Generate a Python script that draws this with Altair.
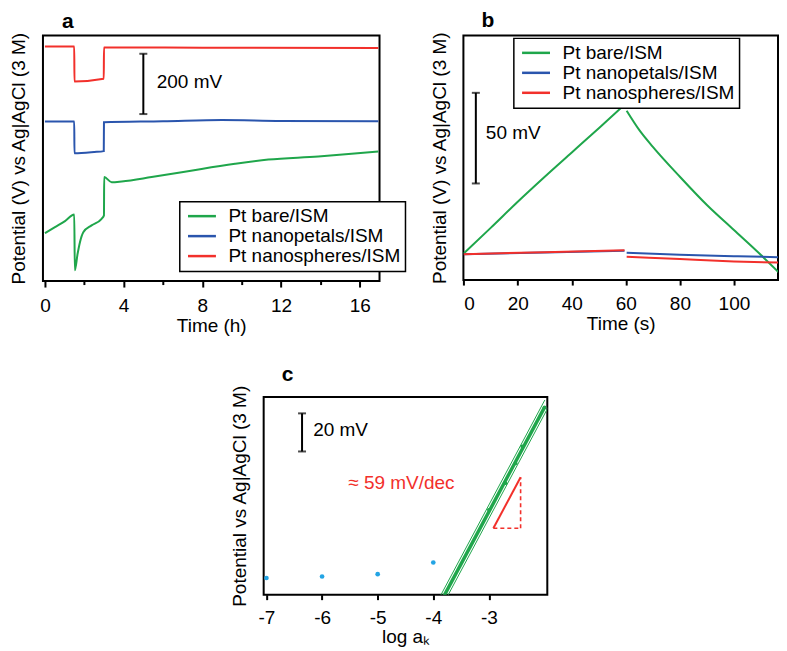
import altair as alt
import pandas as pd
import numpy as np

FONT = "Liberation Sans"
GREEN = "#1fa64b"
BLUE = "#2a55ad"
RED = "#f2302b"
LIGHTBLUE = "#23a4e4"
SERIES = ["Pt bare/ISM", "Pt nanopetals/ISM", "Pt nanospheres/ISM"]
YTITLE = "Potential (V) vs Ag|AgCl (3 M)"
YTITLE_C = "Potential vs Ag|AgCl (3 M)"

# ---------------- panel a (time in h, potential in mV, arbitrary offset) ----
a_bare_t = [0.0, 0.51, 1.02, 1.49, 1.52, 1.66, 1.78, 1.95, 2.37, 2.88, 3.0, 3.01, 3.39, 3.9, 5.42, 6.95, 7.96, 9.66, 11.35, 13.89, 15.58, 16.94]
a_bare_v = [159, 179, 199, 221, 35.5, 90.5, 129, 162, 184.6, 206.6, 217.8, 344.8, 328, 330.5, 345, 361, 372, 389, 403, 413, 422, 430]
a_petal_t = [0.0, 1.49, 1.5, 2.5, 2.99, 3.0, 6.0, 9.0, 12.0, 16.94]
a_petal_v = [529, 529, 424, 428, 431, 527, 530, 534, 531, 530]
a_sphere_t = [0.0, 1.49, 1.5, 2.99, 3.0, 8.0, 16.94]
a_sphere_v = [778, 778, 662, 671, 775, 774, 773]
a_bar = {"x": 5.0, "y0": 554, "y1": 754, "label": "200 mV", "lx": 5.68, "ly": 660}

# ---------------- panel b (time in s, potential in mV) ----------------------
b_bare_t1 = [0, 10, 20, 30, 40, 50, 59.5]
b_bare_v1 = [14.7, 28.8, 43.2, 57.0, 70.4, 83.8, 96.7]
b_bare_t2 = [60.3, 65, 70, 80, 90, 100, 110, 119.5]
b_bare_v2 = [93.4, 82.7, 73.5, 57.0, 41.4, 27.6, 13.8, 0.0]
b_petal_t1 = [0, 30, 59.5]
b_petal_v1 = [14.3, 15.2, 16.2]
b_petal_t2 = [60.3, 80, 100, 119.5]
b_petal_v2 = [15.1, 14.0, 13.2, 12.5]
b_sphere_t1 = [0, 30, 59.5]
b_sphere_v1 = [14.3, 15.4, 16.5]
b_sphere_t2 = [60.3, 80, 100, 119.5]
b_sphere_v2 = [12.9, 11.6, 10.3, 9.5]
b_bar = {"x": 4.5, "y0": 53.3, "y1": 103.3, "label": "50 mV", "lx": 8.2, "ly": 80.9}

# ---------------- panel c (log a_K, potential in mV) -------------------------
c_low_x = [-7, -6, -5, -4]
c_low_v = [8.7, 9.5, 10.7, 16.8]
c_lin_x = [-3.0, -2.70, -2.52, -2.40, -2.0]
c_lin_v = [44.3, 58.2, 68.6, 77.4, 97.9]
c_bar = {"x": -6.36, "y0": 74.8, "y1": 94.7, "label": "20 mV", "lx": -6.16, "ly": 86}
c_note = {"label": "\u2248 59 mV/dec", "x": -5.53, "y": 58.2}
c_tri = {"x0": -2.92, "x1": -2.43, "y0": 34.7, "y1": 61.3}
c_band = 0.065


def series_df(parts):
    rows = []
    for name, seg, ts, vs in parts:
        for t, v in zip(ts, vs):
            rows.append({"t": t, "v": v, "series": name, "seg": f"{name}-{seg}"})
    return pd.DataFrame(rows)


color_scale = alt.Scale(domain=SERIES, range=[GREEN, BLUE, RED])


def legend(lx, ly):
    return alt.Legend(orient="none", legendX=lx, legendY=ly, title=None,
                      symbolType="M-1.045,0H3.617", symbolSize=144, symbolStrokeWidth=2.5,
                      labelFontSize=19, labelFont=FONT, labelColor="black", labelLimit=400,
                      labelOffset=24.7, padding=5, rowPadding=0,
                      strokeColor="black", fillColor="white")


def yaxis(title):
    return alt.Axis(labels=False, ticks=False, domain=False, grid=False,
                    title=title, titlePadding=14)


def scalebar(bar, xs, ys):
    df = pd.DataFrame([{"x": bar["x"], "y0": bar["y0"], "y1": bar["y1"]}])
    caps = pd.DataFrame([{"x": bar["x"], "y": bar["y0"]}, {"x": bar["x"], "y": bar["y1"]}])
    lab = pd.DataFrame([{"x": bar["lx"], "y": bar["ly"], "label": bar["label"]}])
    rule = alt.Chart(df).mark_rule(color="black", strokeWidth=2).encode(
        x=alt.X("x:Q", scale=xs), y=alt.Y("y0:Q", scale=ys), y2="y1:Q")
    cap = alt.Chart(caps).mark_tick(orient="horizontal", size=8, thickness=2, color="black").encode(
        x=alt.X("x:Q", scale=xs), y=alt.Y("y:Q", scale=ys))
    txt = alt.Chart(lab).mark_text(align="left", baseline="middle", fontSize=19, font=FONT, color="black").encode(
        x=alt.X("x:Q", scale=xs), y=alt.Y("y:Q", scale=ys), text="label:N")
    return [rule, cap, txt]


def panel_title(letter, dx):
    return alt.TitleParams(letter, anchor="start", frame="group", dx=dx, offset=0,
                           fontSize=21, fontWeight="bold", font=FONT, color="black")


# ---------------- build panel a ---------------------------------------------
df_a = series_df([
    (SERIES[0], 0, a_bare_t, a_bare_v),
    (SERIES[1], 0, a_petal_t, a_petal_v),
    (SERIES[2], 0, a_sphere_t, a_sphere_v),
])
xs_a = alt.Scale(domain=[-0.1, 17.0], nice=False, zero=False)
ys_a = alt.Scale(domain=[0, 815], nice=False, zero=False)
lines_a = alt.Chart(df_a).mark_line(strokeWidth=2, interpolate="monotone").encode(
    x=alt.X("t:Q", scale=xs_a, axis=alt.Axis(
        values=[0, 2, 4, 6, 8, 10, 12, 14, 16],
        labelExpr="datum.value % 4 == 0 ? datum.label : ''",
        tickSize={"condition": {"test": "datum.value % 4 == 0", "value": 6}, "value": 3.5},
        labelPadding=9, titlePadding=2, title="Time (h)")),
    y=alt.Y("v:Q", scale=ys_a, axis=yaxis(YTITLE)),
    color=alt.Color("series:N", scale=color_scale, legend=legend(137, 166.5)),
    detail="seg:N",
)
chart_a = alt.layer(lines_a, *scalebar(a_bar, xs_a, ys_a)).properties(
    width=337, height=246, title=panel_title("a", 19))

# ---------------- build panel b ---------------------------------------------
df_b = series_df([
    (SERIES[0], 1, b_bare_t1, b_bare_v1),
    (SERIES[0], 2, b_bare_t2, b_bare_v2),
    (SERIES[1], 1, b_petal_t1, b_petal_v1),
    (SERIES[1], 2, b_petal_t2, b_petal_v2),
    (SERIES[2], 1, b_sphere_t1, b_sphere_v1),
    (SERIES[2], 2, b_sphere_t2, b_sphere_v2),
])
xs_b = alt.Scale(domain=[-0.1, 116.3], nice=False, zero=False)
ys_b = alt.Scale(domain=[0, 135], nice=False, zero=False)
lines_b = alt.Chart(df_b).mark_line(strokeWidth=2, interpolate="monotone", clip=True).encode(
    x=alt.X("t:Q", scale=xs_b, axis=alt.Axis(
        values=[0, 20, 40, 60, 80, 100], tickSize=5, labelPadding=9,
        titlePadding=2, title="Time (s)")),
    y=alt.Y("v:Q", scale=ys_b, axis=yaxis(YTITLE)),
    color=alt.Color("series:N", scale=color_scale, legend=legend(50.5, 3)),
    detail="seg:N",
)
chart_b = alt.layer(lines_b, *scalebar(b_bar, xs_b, ys_b)).properties(
    width=315, height=245, title=panel_title("b", 18))

# ---------------- build panel c ---------------------------------------------
xs_c = alt.Scale(domain=[-7.05, -1.95], nice=False, zero=False)
ys_c = alt.Scale(domain=[0, 103.3], nice=False, zero=False)
slope, icpt = np.polyfit(c_lin_x, c_lin_v, 1)
fit_rows = []
for off, name, xr in [(0.0, "fit", [-3.9, -2.0]), (-c_band, "lo", [-3.9, -1.93]), (c_band, "hi", [-3.9, -1.93])]:
    for fx in xr:
        fit_rows.append({"x": fx + off, "v": slope * fx + icpt, "k": name})
df_fit = pd.DataFrame(fit_rows)
df_low = pd.DataFrame({"x": c_low_x, "v": c_low_v})
df_lin = pd.DataFrame({"x": c_lin_x, "v": c_lin_v})

xax_c = alt.Axis(values=[-7, -6, -5, -4, -3], labelExpr="'' + datum.value", tickSize=5,
                 labelPadding=9, titlePadding=0, title="log a\u2096")
base_c = alt.Chart(df_low).mark_circle(size=22, color=LIGHTBLUE, opacity=1).encode(
    x=alt.X("x:Q", scale=xs_c, axis=xax_c),
    y=alt.Y("v:Q", scale=ys_c, axis=yaxis(YTITLE_C)))
fit_main = alt.Chart(df_fit).transform_filter("datum.k == 'fit'").mark_line(
    color=GREEN, strokeWidth=3.5, clip=True).encode(
    x=alt.X("x:Q", scale=xs_c), y=alt.Y("v:Q", scale=ys_c))
fit_band = alt.Chart(df_fit).transform_filter("datum.k != 'fit'").mark_line(
    color=GREEN, strokeWidth=1, clip=True).encode(
    x=alt.X("x:Q", scale=xs_c), y=alt.Y("v:Q", scale=ys_c), detail="k:N")
lin_pts = alt.Chart(df_lin).mark_circle(size=14, color=GREEN, opacity=1).encode(
    x=alt.X("x:Q", scale=xs_c), y=alt.Y("v:Q", scale=ys_c))
tri_solid = alt.Chart(pd.DataFrame([{"x": c_tri["x0"], "y": c_tri["y0"], "x2": c_tri["x1"], "y2": c_tri["y1"]}])).mark_rule(
    color=RED, strokeWidth=2).encode(
    x=alt.X("x:Q", scale=xs_c), y=alt.Y("y:Q", scale=ys_c), x2="x2:Q", y2="y2:Q")
tri_dash = alt.Chart(pd.DataFrame([
    {"x": c_tri["x1"], "y": c_tri["y0"], "x2": c_tri["x1"], "y2": c_tri["y1"]},
    {"x": c_tri["x0"], "y": c_tri["y0"], "x2": c_tri["x1"], "y2": c_tri["y0"]},
])).mark_rule(color=RED, strokeWidth=1.6, strokeDash=[4, 3]).encode(
    x=alt.X("x:Q", scale=xs_c), y=alt.Y("y:Q", scale=ys_c), x2="x2:Q", y2="y2:Q")
note = alt.Chart(pd.DataFrame([c_note])).mark_text(
    align="left", baseline="middle", fontSize=19, font=FONT, color=RED).encode(
    x=alt.X("x:Q", scale=xs_c), y=alt.Y("y:Q", scale=ys_c), text="label:N")
chart_c = alt.layer(base_c, fit_band, fit_main, lin_pts, tri_solid, tri_dash, note,
                    *scalebar(c_bar, xs_c, ys_c)).properties(
    width=284, height=198, title=panel_title("c", 18))

spacer = alt.Chart(pd.DataFrame({"x": [0]})).mark_point(opacity=0).encode(
    x=alt.X("x:Q", axis=None), y=alt.Y("x:Q", axis=None)).properties(
    width=137, height=198, view=alt.ViewBackground(stroke="transparent"))

row1 = alt.hconcat(chart_a, chart_b, spacing=84, bounds="flush").resolve_scale(
    x="independent", y="independent", color="independent").resolve_legend(color="independent")
row2 = alt.hconcat(spacer, chart_c, spacing=84, bounds="flush").resolve_scale(
    x="independent", y="independent")

# nested concat groups have no flush height, so the row spacing includes row 1's height
chart = alt.vconcat(row1, row2, spacing=362, bounds="flush").resolve_scale(
    x="independent", y="independent", color="independent").resolve_legend(
    color="independent").properties(padding=0
    ).configure(font=FONT).configure_view(stroke="black", strokeWidth=2
    ).configure_axis(labelFont=FONT, titleFont=FONT, labelFontSize=19, titleFontSize=19,
                     labelColor="black", titleColor="black", titleFontWeight="normal",
                     grid=False, domain=False, tickColor="black", tickWidth=2
    ).configure_legend(strokeWidth=1.5)

chart.save("out.html", embed_options={"renderer": "svg", "actions": False})
